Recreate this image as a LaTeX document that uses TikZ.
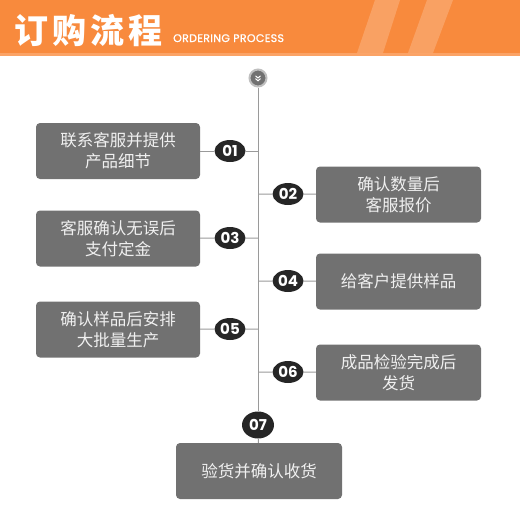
\documentclass[tikz,border=0pt]{standalone}
\usepackage{fontspec}
\usetikzlibrary{shapes.geometric}
\newfontfamily\cjk{Noto Sans CJK SC}
\newfontfamily\latn{Poppins}
\definecolor{headorange}{HTML}{F88A3D}
\definecolor{headlight}{HTML}{FBA366}
\definecolor{boxgrey}{HTML}{717171}
\definecolor{numdark}{HTML}{262626}
\definecolor{spinegrey}{HTML}{9A9A9A}

\begin{document}
\begin{tikzpicture}[x=1pt,y=-1pt,
  stepbox/.style={draw=none,fill=boxgrey,rounded corners=4pt,inner sep=0pt,
    minimum width=164pt,minimum height=56pt,align=center,text=white!94!black,
    font=\cjk\fontsize{16.5}{21}\selectfont},
  num/.style={ellipse,fill=numdark,inner sep=0pt,minimum width=31pt,minimum height=22pt,
    text=white,font=\latn\bfseries\fontsize{15}{15}\selectfont},
  link/.style={draw=spinegrey,line width=1pt}]
\useasboundingbox (0,0) rectangle (520,520);

% header band
\fill[headorange] (0,0) rectangle (520,53);
\fill[headlight] (0,53) rectangle (520,56);
\fill[white,opacity=.2] (357,53) -- (375,0) -- (400,0) -- (383,53) -- cycle;
\fill[white,opacity=.2] (408,53) -- (427,0) -- (453,0) -- (433,53) -- cycle;
\node[anchor=base west,inner sep=0pt,text=white,
  font=\cjk\bfseries\fontsize{34}{36}\selectfont\addfontfeature{LetterSpace=12}] (title) at (14,43) {订购流程};
\node[anchor=base west,inner sep=0pt,text=white,
  font=\latn\fontsize{11}{12}\selectfont\addfontfeature{LetterSpace=3,FakeBold=1}] (sub) at (173,42) {ORDERING PROCESS};

% top icon
\node[circle,fill=boxgrey,draw=black!25,line width=2pt,minimum size=17pt,inner sep=0pt] (top) at (258,78) {};
\draw[white,line width=1pt] ([shift={(-2.5pt,2.2pt)}]top.center) -- ++(2.5pt,-2.2pt) -- ++(2.5pt,2.2pt);
\draw[white,line width=1pt] ([shift={(-2.5pt,-0.6pt)}]top.center) -- ++(2.5pt,-2.2pt) -- ++(2.5pt,2.2pt);

% steps
\node[stepbox] (b1) at (118,151) {联系客服并提供\\产品细节};
\node[num] (n1) at (230,151) {01};
\node[stepbox,minimum width=165pt] (b2) at (398.5,194.5) {确认数量后\\客服报价};
\node[num] (n2) at (288,194) {02};
\node[stepbox] (b3) at (118,238.5) {客服确认无误后\\支付定金};
\node[num] (n3) at (230,238) {03};
\node[stepbox,minimum width=165pt] (b4) at (398.5,281.5) {给客户提供样品};
\node[num] (n4) at (288,281) {04};
\node[stepbox] (b5) at (118,329.5) {确认样品后安排\\大批量生产};
\node[num] (n5) at (230,329) {05};
\node[stepbox,minimum width=165pt] (b6) at (398.5,372.5) {成品检验完成后\\发货};
\node[num] (n6) at (288,372) {06};
\node[num,minimum width=32pt,minimum height=27pt] (n7) at (258,425) {07};
\node[stepbox,minimum width=166pt] (b7) at (259,471) {验货并确认收货};

% connectors
\draw[link] (top) -- (n7);
\draw[link] (b1) -- (n1) -- (n1 -| top);
\draw[link] (b2) -- (n2) -- (n2 -| top);
\draw[link] (b3) -- (n3) -- (n3 -| top);
\draw[link] (b4) -- (n4) -- (n4 -| top);
\draw[link] (b5) -- (n5) -- (n5 -| top);
\draw[link] (b6) -- (n6) -- (n6 -| top);
\draw[link] (n7) -- (b7);
\end{tikzpicture}
\end{document}
